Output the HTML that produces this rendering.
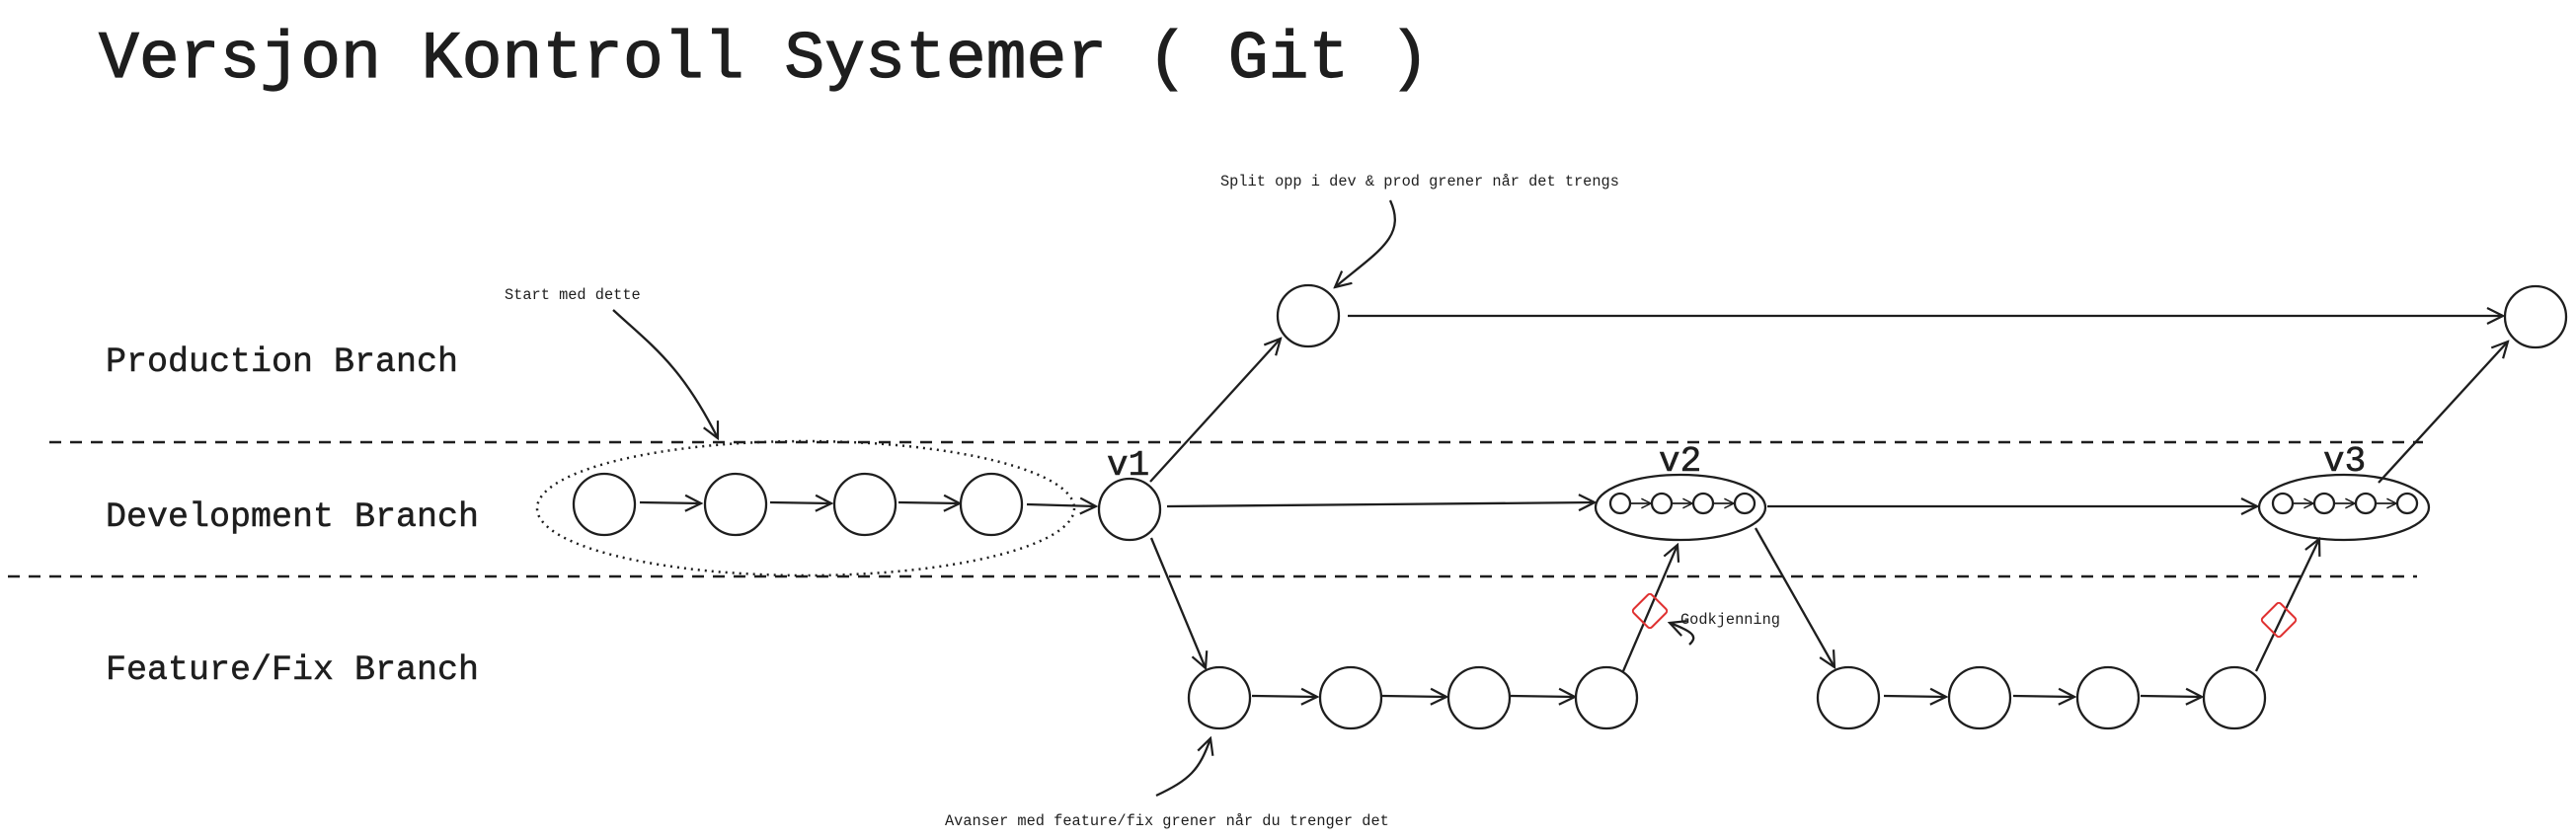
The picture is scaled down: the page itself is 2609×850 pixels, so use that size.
<!DOCTYPE html>
<html><head><meta charset="utf-8"><style>
html,body{margin:0;padding:0;background:#fff;}
svg{display:block;}
text{font-family:"Liberation Mono",monospace;fill:#1e1e1e;}
</style></head><body>
<svg width="2609" height="850" viewBox="0 0 2609 850" xmlns="http://www.w3.org/2000/svg">
<defs>
<marker id="a" viewBox="0 0 20 20" refX="18" refY="10" markerWidth="20" markerHeight="20" markerUnits="userSpaceOnUse" orient="auto">
<polyline points="2,2 18,10 2,18" fill="none" stroke="#1e1e1e" stroke-width="2.2"/>
</marker>
<marker id="s" viewBox="0 0 20 20" refX="18" refY="10" markerWidth="12" markerHeight="12" markerUnits="userSpaceOnUse" orient="auto">
<polyline points="2,2 18,10 2,18" fill="none" stroke="#1e1e1e" stroke-width="2.5"/>
</marker>
</defs>
<text x="100" y="78" font-size="68" textLength="1348" lengthAdjust="spacingAndGlyphs" stroke="#1e1e1e" stroke-width="1.2">Versjon Kontroll Systemer ( Git )</text>
<text x="107" y="376" font-size="35" stroke="#1e1e1e" stroke-width="0.5">Production Branch</text>
<text x="107" y="533" font-size="35" stroke="#1e1e1e" stroke-width="0.5">Development Branch</text>
<text x="107" y="688" font-size="35" stroke="#1e1e1e" stroke-width="0.5">Feature/Fix Branch</text>

<g stroke="#1e1e1e" stroke-width="2.5" stroke-dasharray="12 9" fill="none">
<line x1="50" y1="448" x2="2454" y2="448"/>
<line x1="8" y1="584" x2="2448" y2="584"/>
</g>

<ellipse cx="816" cy="515" rx="272" ry="68" fill="none" stroke="#1e1e1e" stroke-width="2.5" stroke-dasharray="2 5"/>

<g fill="none" stroke="#1e1e1e" stroke-width="2.3">
<circle cx="612" cy="511" r="31"/>
<circle cx="745" cy="511" r="31"/>
<circle cx="876" cy="511" r="31"/>
<circle cx="1004" cy="511" r="31"/>
<circle cx="1144" cy="516" r="31"/>
<circle cx="1325" cy="320" r="31"/>
<circle cx="2568" cy="321" r="31"/>
<ellipse cx="1702" cy="514" rx="86" ry="33"/>
<ellipse cx="2374" cy="514" rx="86" ry="33"/>
<circle cx="1641" cy="510" r="10"/><circle cx="1683" cy="510" r="10"/><circle cx="1725" cy="510" r="10"/><circle cx="1767" cy="510" r="10"/>
<circle cx="2312" cy="510" r="10"/><circle cx="2354" cy="510" r="10"/><circle cx="2396" cy="510" r="10"/><circle cx="2438" cy="510" r="10"/>
<circle cx="1235" cy="707" r="31"/>
<circle cx="1368" cy="707" r="31"/>
<circle cx="1498" cy="707" r="31"/>
<circle cx="1627" cy="707" r="31"/>
<circle cx="1872" cy="707" r="31"/>
<circle cx="2005" cy="707" r="31"/>
<circle cx="2135" cy="707" r="31"/>
<circle cx="2263" cy="707" r="31"/>
</g>

<g fill="none" stroke="#1e1e1e" stroke-width="2.3" marker-end="url(#a)">
<line x1="648" y1="509" x2="710" y2="510"/>
<line x1="780" y1="509" x2="842" y2="510"/>
<line x1="910" y1="509" x2="972" y2="510"/>
<line x1="1040" y1="511" x2="1110" y2="513"/>
<line x1="1165" y1="488" x2="1297" y2="343"/>
<line x1="1182" y1="513" x2="1615" y2="509"/>
<line x1="1166" y1="545" x2="1221" y2="677"/>
<line x1="1365" y1="320" x2="2535" y2="320"/>
<line x1="1790" y1="513" x2="2286" y2="513"/>
<line x1="2409" y1="489" x2="2540" y2="346"/>
<line x1="1644" y1="680" x2="1699" y2="552"/>
<line x1="1778" y1="535" x2="1858" y2="676"/>
<line x1="2285" y1="680" x2="2349" y2="546"/>
<line x1="1268" y1="705" x2="1334" y2="706"/>
<line x1="1400" y1="705" x2="1465" y2="706"/>
<line x1="1530" y1="705" x2="1595" y2="706"/>
<line x1="1908" y1="705" x2="1971" y2="706"/>
<line x1="2039" y1="705" x2="2101" y2="706"/>
<line x1="2168" y1="705" x2="2230" y2="706"/>
<path d="M1408 203 C1425 240 1395 255 1352 291"/>
<path d="M621 314 C660 350 690 370 727 444"/>
<path d="M1171 806 C1205 790 1215 780 1226 748"/>
<path d="M1711 653 C1720 645 1715 640 1691 631"/>
</g>
<g fill="none" stroke="#1e1e1e" stroke-width="1.8" marker-end="url(#s)">
<line x1="1652" y1="510" x2="1672" y2="510"/><line x1="1694" y1="510" x2="1714" y2="510"/><line x1="1736" y1="510" x2="1756" y2="510"/>
<line x1="2323" y1="510" x2="2343" y2="510"/><line x1="2365" y1="510" x2="2385" y2="510"/><line x1="2407" y1="510" x2="2427" y2="510"/>
</g>

<g fill="none" stroke="#e03131" stroke-width="2">
<rect x="1658" y="606" width="26" height="26" rx="3" transform="rotate(45 1671 619)"/>
<rect x="2295" y="615" width="26" height="26" rx="3" transform="rotate(45 2308 628)"/>
</g>

<text x="1121" y="481" font-size="36" stroke="#1e1e1e" stroke-width="0.6">v1</text>
<text x="1680" y="477" font-size="36" stroke="#1e1e1e" stroke-width="0.6">v2</text>
<text x="2353" y="477" font-size="36" stroke="#1e1e1e" stroke-width="0.6">v3</text>
<text x="1236" y="188" font-size="15.3">Split opp i dev &amp; prod grener når det trengs</text>
<text x="511" y="303" font-size="15.3">Start med dette</text>
<text x="957" y="836" font-size="15.3">Avanser med feature/fix grener når du trenger det</text>
<text x="1702" y="632" font-size="15.3">Godkjenning</text>
</svg>
</body></html>
